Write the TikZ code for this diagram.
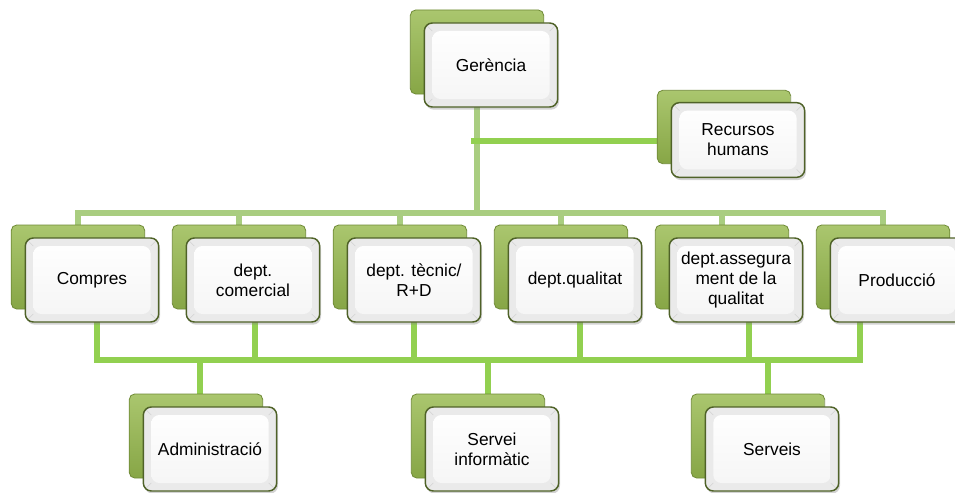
\documentclass[tikz,border=0pt]{standalone}
\usepackage{fontspec}
\setmainfont{Liberation Sans}
\usepackage{tikz}
\usetikzlibrary{positioning,calc,shadows,backgrounds}
\definecolor{leaf}{HTML}{87A646}
\definecolor{leafhi}{HTML}{AAC66E}
\definecolor{leafdark}{HTML}{6F8A36}
\definecolor{rim}{HTML}{4F6228}
\definecolor{bevel}{HTML}{EAEAEA}
\definecolor{topgreen}{HTML}{A9CD80}
\definecolor{botgreen}{HTML}{92D050}

\tikzset{
  backbox/.style={rectangle, rounded corners=4pt, minimum width=100pt, minimum height=63pt,
    top color=leafhi, bottom color=leaf, draw=leafdark, line width=0.6pt, inner sep=0pt},
  frontbox/.style={rectangle, rounded corners=6pt, minimum width=100pt, minimum height=63pt,
    fill=bevel, draw=rim, line width=1.1pt, inner sep=0pt, align=center,
    font=\fontsize{13}{15}\selectfont,
    drop shadow={shadow xshift=1pt, shadow yshift=-2pt, opacity=0.35},
    path picture={
      \fill[top color=white, bottom color=white!96!black]
        ([shift={(6pt,6pt)}]path picture bounding box.south west) rectangle
        ([shift={(-6pt,-6pt)}]path picture bounding box.north east);
      \draw[gray!35, line width=0.4pt]
        (path picture bounding box.south west) -- ++(6pt,6pt)
        (path picture bounding box.north east) -- ++(-6pt,-6pt)
        (path picture bounding box.north west) -- ++(6pt,-6pt)
        (path picture bounding box.south east) -- ++(-6pt,6pt);
    }},
  topline/.style={draw=topgreen, line width=3.8pt, line cap=rect},
  botline/.style={draw=botgreen, line width=3.8pt, line cap=rect},
}

\begin{document}
\begin{tikzpicture}[x=0.75pt, y=-0.75pt]
    \useasboundingbox (0,0) rectangle (955,492);
    % top of the chart
    \node[backbox] (b0) at (477,52) {};
    \node[frontbox] (f0) at ($(b0)+(14,13)$) {Gerència};
    \node[backbox, minimum height=55pt] (br) at (724,127) {};
    \node[frontbox, minimum height=56pt] (fr) at ($(br)+(14,13)$) {Recursos\\humans};
    % departments
    \foreach \i/\x/\txt in {1/78/Compres, 2/239/{dept.\\comercial}, 3/400/{dept. tècnic/\\R+D},
        4/561/dept.qualitat, 5/722/{dept.assegura\\ment de la\\qualitat}, 6/883/Producció} {
      \node[backbox] (b\i) at (\x,267) {};
      \node[frontbox] (f\i) at ($(b\i)+(14,13)$) {\txt};
    }
    % support services
    \foreach \i/\x/\txt in {7/196/Administració, 8/478/{Servei\\informàtic}, 9/758/Serveis} {
      \node[backbox] (b\i) at (\x,436) {};
      \node[frontbox] (f\i) at ($(b\i)+(14,13)$) {\txt};
    }
    \coordinate (topbus) at (0,213);
    \coordinate (hr) at (0,141);
    \coordinate (botbus) at (0,360);
    \begin{scope}[on background layer]
      \draw[topline] (b0.south) -- (b0.south |- topbus);
      \draw[topline] (b1.north |- topbus) -- (b6.north |- topbus);
      \foreach \i in {1,...,6} \draw[topline] (b\i.north) -- (b\i.north |- topbus);
      \draw[botline] ($(b0.south |- hr)+(-3,0)$) -- (br.west |- hr);
      % drops under the departments
      \foreach \i/\dx in {1/5,2/2,3/0,4/5,5/13,6/-37}
        \draw[botline] ($(f\i.south)+(\dx,0)$) coordinate (d\i) -- (d\i |- botbus);
      \draw[botline] (d1 |- botbus) -- (d6 |- botbus);
      \foreach \i/\dx in {7/4,8/10,9/10}
        \draw[botline] ($(b\i.north)+(\dx,0)$) coordinate (u\i) -- (u\i |- botbus);
    \end{scope}
\end{tikzpicture}
\end{document}
